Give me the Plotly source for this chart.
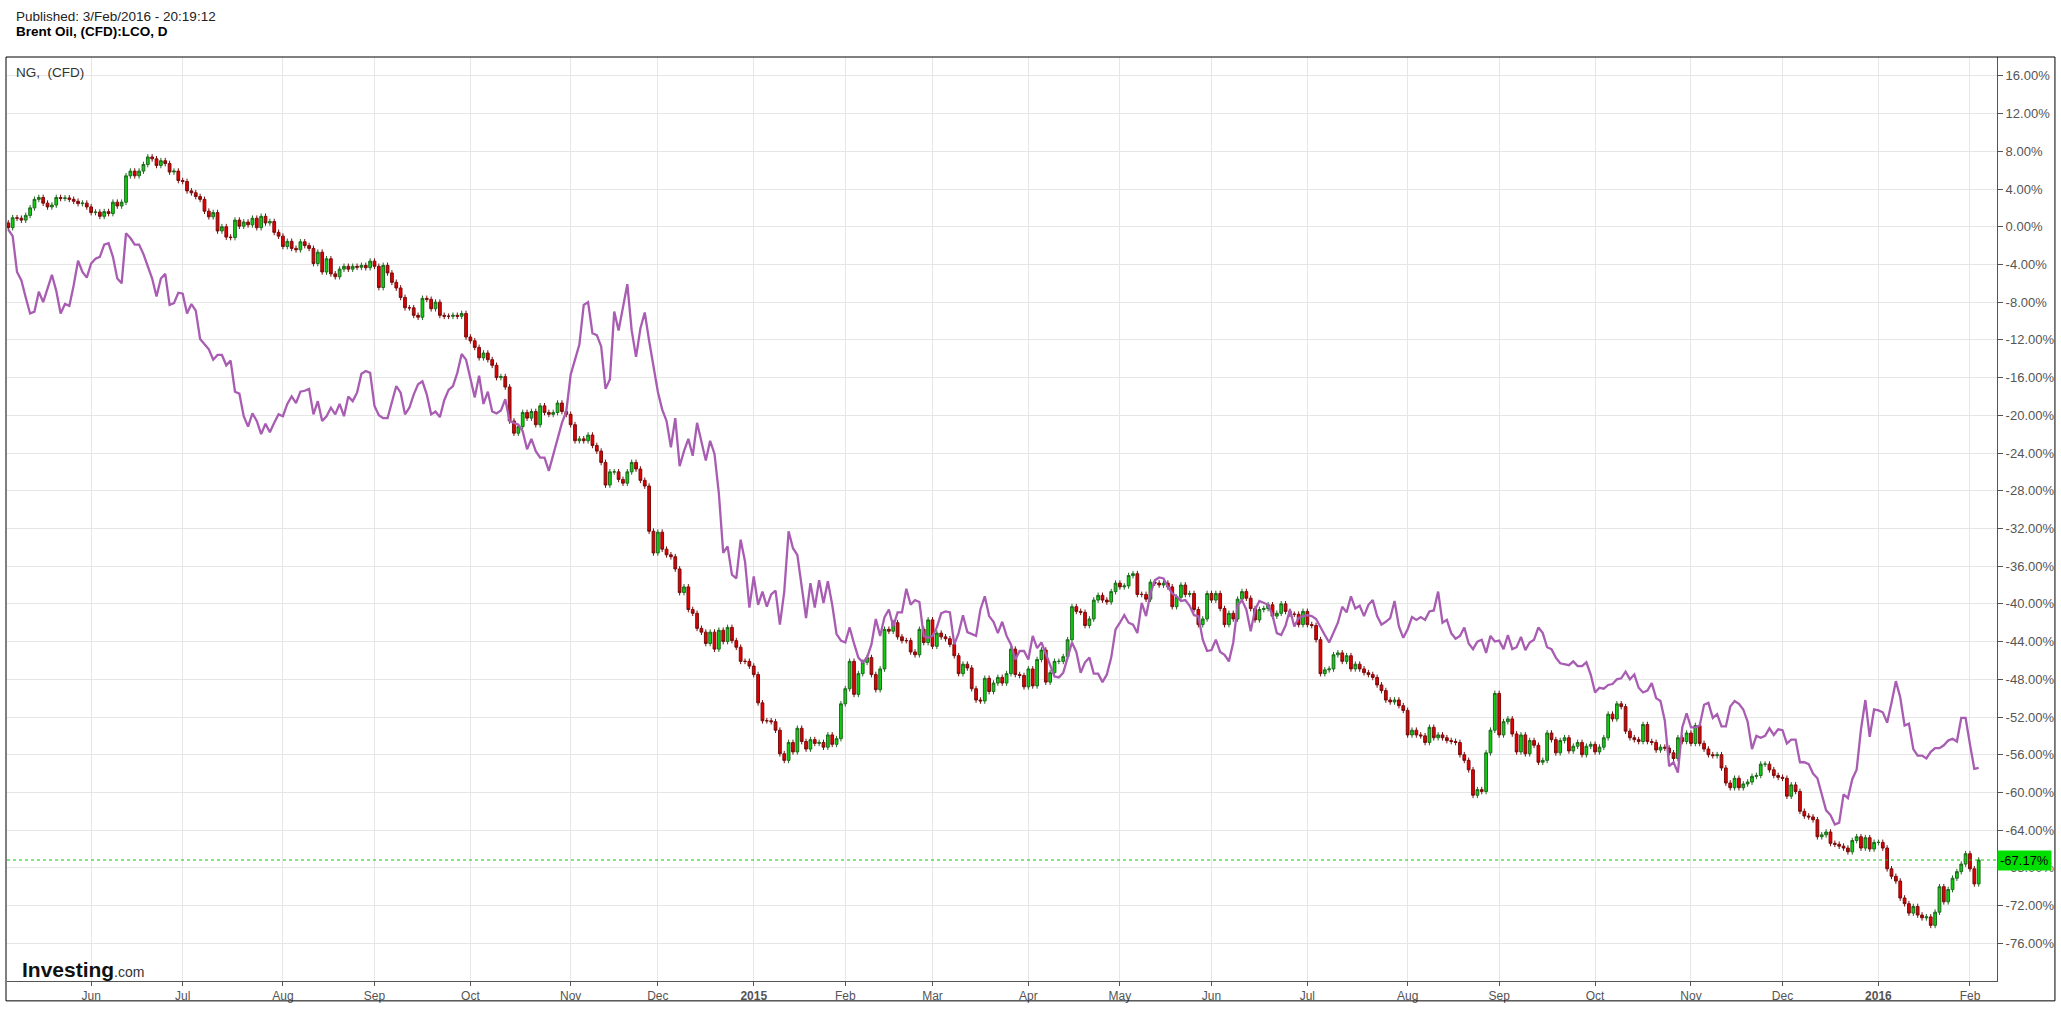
import pandas as pd
import plotly.graph_objects as go

# Brent Oil (CFD) daily closes, % change from the first bar, one list per month
brent_2014_05 = [-0.1, 0.95, 0.9, 0.7, 1.2, 2.0, 2.9, 3.1, 2.5, 2.1, 2.3, 3.1, 3.0, 3.05, 2.9, 2.7, 2.45, 2.5, 2.1]
brent_2014_06 = [1.5, 1.55, 1.1, 1.6, 1.4, 2.6, 2.2, 2.6, 5.4, 5.9, 5.4, 5.9, 6.6, 7.4, 7.2, 6.5, 7.0, 6.7, 5.8, 5.9, 4.9]
brent_2014_07 = [4.8, 3.8, 3.6, 3.2, 2.9, 1.65, 1.05, 1.5, -0.45, 0.0, -1.1, -1.15, 0.7, 0.05, 0.5, 0.2, 0.9, -0.1,
                 1.1, 0.4, 0.55, -0.6, -1.0]
brent_2014_08 = [-2.1, -1.55, -2.3, -2.45, -1.6, -2.0, -2.3, -3.9, -2.7, -4.8, -3.4, -5.0, -5.3, -4.5, -4.2, -4.5,
                 -4.2, -4.3, -4.1, -4.35, -3.65]
brent_2014_09 = [-4.2, -6.45, -4.1, -4.9, -5.9, -6.5, -7.5, -8.6, -8.6, -9.4, -9.6, -7.6, -7.7, -8.7, -8.0, -9.4,
                 -9.5, -9.5, -9.4, -9.5, -9.2, -11.7]
brent_2014_10 = [-12.1, -12.8, -13.9, -13.4, -14.1, -14.7, -16.0, -15.9, -17.0, -20.6, -21.9, -21.2, -19.7, -20.3,
                 -19.6, -21.0, -19.0, -19.7, -19.9, -19.7, -18.7, -19.6, -19.9]
brent_2014_11 = [-21.0, -22.7, -22.5, -22.7, -22.1, -23.2, -23.8, -25.0, -27.4, -26.0, -26.0, -26.8, -27.2, -26.0,
                 -25.0, -25.7, -26.9, -27.5, -32.3, -34.6]
brent_2014_12 = [-32.4, -34.2, -34.8, -35.0, -36.3, -38.8, -38.2, -40.6, -41.0, -42.6, -43.0, -44.2, -43.0, -44.8,
                 -42.8, -44.0, -42.5, -43.9, -44.6, -46.1, -46.1, -46.6]
brent_2015_01 = [-47.5, -50.5, -52.4, -52.4, -52.5, -53.4, -55.9, -56.6, -54.7, -55.7, -53.2, -54.6, -55.4, -54.4,
                 -54.8, -54.7, -55.2, -53.9, -54.9, -54.3, -50.6]
brent_2015_02 = [-49.0, -46.1, -49.6, -47.4, -46.2, -45.7, -47.5, -49.1, -46.9, -42.7, -42.9, -42.0, -43.5, -43.9,
                 -43.9, -45.1, -45.4, -42.7, -44.1, -41.7]
brent_2015_03 = [-44.5, -43.1, -43.5, -43.7, -44.3, -45.5, -47.4, -46.4, -46.8, -49.0, -50.2, -50.3, -47.9, -49.3,
                 -48.4, -47.8, -48.4, -47.4, -44.8, -47.5, -47.6, -48.8]
brent_2015_04 = [-46.9, -48.7, -45.9, -44.9, -48.3, -47.3, -46.1, -46.1, -45.6, -43.8, -40.3, -40.8, -40.9, -42.3,
                 -41.6, -39.6, -39.1, -39.6, -39.8, -38.7, -37.8]
brent_2015_05 = [-38.2, -38.1, -37.0, -36.8, -39.0, -39.0, -39.5, -37.7, -37.8, -38.0, -37.8, -38.2, -40.3, -39.3,
                 -38.0, -39.0, -38.9, -40.6, -42.2, -41.6, -38.9]
brent_2015_06 = [-39.6, -38.9, -40.5, -42.2, -41.0, -41.6, -39.5, -38.7, -39.4, -40.5, -41.7, -40.6, -40.5, -40.1,
                 -41.3, -41.0, -40.0, -40.8, -41.1, -41.1, -42.2, -40.8]
brent_2015_07 = [-42.2, -42.3, -43.8, -47.4, -47.0, -46.9, -45.4, -45.2, -46.1, -45.5, -46.9, -46.4, -46.9, -47.3,
                 -47.5, -47.8, -48.6, -49.2, -50.2, -50.4, -50.2, -50.8, -51.3]
brent_2015_08 = [-53.9, -53.4, -53.9, -54.0, -54.7, -53.1, -54.2, -53.9, -54.2, -54.5, -54.6, -54.7, -56.0, -56.6,
                 -57.6, -60.3, -59.7, -59.9, -55.8, -53.4, -49.5]
brent_2015_09 = [-53.9, -52.5, -52.2, -53.8, -55.7, -53.9, -55.9, -54.5, -55.0, -56.8, -56.6, -53.7, -54.4, -55.8,
                 -54.5, -54.2, -55.6, -55.1, -54.7, -56.0, -55.1, -54.9]
brent_2015_10 = [-55.7, -55.2, -54.2, -51.7, -52.2, -50.6, -50.9, -53.5, -54.2, -54.4, -54.6, -52.8, -54.6, -54.7,
                 -55.5, -55.2, -55.3, -55.8, -56.4, -54.2, -54.6, -53.7]
brent_2015_11 = [-54.8, -52.9, -54.8, -55.4, -56.0, -56.1, -56.0, -57.4, -59.0, -59.5, -58.5, -59.5, -59.1, -58.9,
                 -58.3, -58.2, -57.0, -57.0, -57.6, -58.2, -58.4]
brent_2015_12 = [-58.5, -60.4, -59.2, -59.9, -62.0, -62.5, -62.6, -62.9, -64.7, -64.5, -64.2, -65.4, -65.5, -65.7,
                 -65.9, -66.3, -65.1, -64.7, -65.9, -64.8, -66.0, -65.3]
brent_2016_01 = [-65.3, -65.9, -68.1, -68.9, -69.4, -71.2, -71.8, -72.8, -72.1, -73.0, -73.3, -73.2, -74.1, -72.7,
                 -70.0, -71.6, -70.3, -69.1, -68.4, -67.6, -66.5]
brent_2016_02 = [-68.1, -69.7, -67.17]
brent_first_open = 0.4

# Natural gas (CFD) daily closes, % change from the first bar
ng_2014_05 = [-0.3, -1.0, -4.8, -5.7, -7.5, -9.2, -9.0, -6.9, -8.0, -6.6, -5.1, -6.8, -9.2, -8.2, -8.4, -6.2, -3.6,
              -4.8, -5.4]
ng_2014_06 = [-3.9, -3.4, -3.2, -1.9, -1.75, -3.2, -5.5, -6.0, -0.7, -1.2, -1.9, -1.9, -2.9, -4.1, -5.5, -7.4, -5.5,
              -5.0, -8.3, -8.1, -7.0]
ng_2014_07 = [-7.1, -9.2, -8.2, -8.9, -11.9, -12.5, -13.0, -14.1, -13.6, -13.6, -14.7, -14.2, -17.5, -17.7, -20.1,
              -21.2, -19.8, -20.6, -22.0, -20.9, -21.8, -20.8, -19.9]
ng_2014_08 = [-20.1, -18.8, -18.0, -18.7, -17.5, -17.4, -17.2, -19.9, -18.5, -20.6, -20.1, -19.2, -19.9, -18.8, -20.1,
              -18.0, -18.5, -17.6, -15.6, -15.3, -15.5]
ng_2014_09 = [-19.0, -20.0, -20.3, -20.3, -18.7, -16.9, -17.6, -19.9, -19.2, -17.8, -16.7, -16.4, -17.8, -19.9, -19.6,
              -20.2, -18.4, -17.3, -16.9, -15.5, -13.5, -14.1]
ng_2014_10 = [-16.1, -18.1, -15.8, -18.8, -17.5, -19.6, -19.8, -19.5, -18.3, -20.6, -20.8, -21.0, -21.7, -23.6, -22.5,
              -23.8, -24.5, -24.5, -25.9, -24.1, -22.4, -20.8, -19.6]
ng_2014_11 = [-15.7, -14.1, -12.5, -8.3, -8.0, -11.3, -11.5, -12.7, -17.2, -16.2, -9.0, -11.0, -8.4, -6.1, -11.0,
              -13.8, -10.8, -9.1, -12.1, -15.0]
ng_2014_12 = [-17.5, -19.4, -20.6, -23.4, -20.3, -25.4, -23.8, -22.5, -24.3, -20.8, -22.9, -24.8, -22.7, -24.1, -28.3,
              -34.6, -33.9, -36.9, -37.3, -33.2, -35.5, -40.4]
ng_2015_01 = [-37.1, -40.1, -38.7, -40.3, -39.0, -38.6, -42.2, -38.7, -32.3, -34.1, -34.8, -38.2, -41.5, -37.8, -40.4,
              -37.5, -39.9, -37.6, -40.1, -43.2, -43.9]
ng_2015_02 = [-44.1, -42.5, -44.2, -45.7, -46.2, -45.7, -44.3, -41.6, -43.4, -41.4, -40.6, -42.4, -40.9, -40.9, -38.4,
              -40.1, -39.6, -39.8, -43.4, -43.6]
ng_2015_03 = [-43.4, -42.5, -41.0, -40.8, -40.9, -44.3, -43.1, -41.2, -43.0, -43.2, -43.4, -40.6, -39.2, -41.3, -41.9,
              -43.1, -41.9, -43.4, -44.3, -45.9, -45.0, -45.0]
ng_2015_04 = [-45.9, -43.4, -44.7, -44.1, -45.3, -46.6, -47.7, -47.8, -47.3, -45.7, -44.1, -45.1, -47.3, -46.2, -45.7,
              -47.4, -47.4, -48.3, -47.5, -45.7, -42.7]
ng_2015_05 = [-42.0, -41.2, -42.0, -42.2, -43.1, -39.9, -41.3, -38.9, -37.5, -37.2, -37.3, -38.2, -38.9, -39.2, -39.7,
              -39.6, -40.2, -41.2, -41.3, -43.8, -45.0]
ng_2015_06 = [-44.9, -43.8, -45.1, -45.4, -46.1, -44.1, -40.2, -39.6, -40.6, -42.9, -40.6, -39.7, -39.9, -40.1, -41.2,
              -43.1, -43.3, -42.3, -40.6, -42.4, -41.5, -41.3]
ng_2015_07 = [-41.2, -41.3, -41.6, -42.5, -43.3, -44.1, -43.1, -42.0, -40.3, -40.9, -39.2, -40.5, -40.2, -41.3, -40.1,
              -39.6, -41.3, -42.2, -41.9, -41.5, -39.7, -42.4, -43.6]
ng_2015_08 = [-42.7, -41.4, -41.7, -41.4, -41.7, -40.8, -40.7, -38.7, -42.0, -41.7, -43.1, -43.7, -43.4, -42.5, -44.2,
              -44.8, -44.0, -43.8, -45.2, -43.4, -44.0]
ng_2015_09 = [-43.9, -44.8, -43.3, -44.8, -44.6, -43.5, -44.9, -44.1, -43.8, -42.5, -43.1, -44.6, -44.8, -45.7, -46.3,
              -46.4, -46.5, -46.1, -46.6, -46.6, -46.2, -47.5]
ng_2015_10 = [-49.4, -48.9, -49.0, -48.6, -48.5, -48.0, -47.9, -47.2, -48.0, -47.5, -48.9, -49.4, -49.2, -48.4, -50.0,
              -50.3, -52.4, -57.2, -56.8, -57.9, -53.1, -51.6]
ng_2015_11 = [-53.1, -53.1, -52.9, -50.7, -50.5, -52.1, -51.7, -53.0, -53.0, -50.9, -50.3, -50.6, -51.2, -52.5, -55.4,
              -54.0, -54.2, -54.0, -53.2, -53.9, -53.3]
ng_2015_12 = [-53.4, -54.8, -54.4, -54.4, -56.8, -56.8, -57.0, -58.0, -58.5, -60.3, -61.9, -62.4, -63.4, -63.2, -60.2,
              -60.6, -58.6, -57.6, -53.3, -50.2, -54.1, -51.2]
ng_2016_01 = [-51.3, -51.5, -52.6, -50.5, -48.2, -49.9, -52.9, -52.7, -55.4, -56.1, -56.1, -56.4, -55.7, -55.3, -55.3,
              -55.0, -54.5, -54.3, -54.6, -52.1, -52.1]
ng_2016_02 = [-54.9, -57.5, -57.4]

month_labels = ["Jun", "Jul", "Aug", "Sep", "Oct", "Nov", "Dec", "<b>2015</b>", "Feb", "Mar", "Apr", "May", "Jun",
                "Jul", "Aug", "Sep", "Oct", "Nov", "Dec", "<b>2016</b>", "Feb"]
y_ticks = list(range(16, -77, -4))
closed_days = ["2014-12-25", "2015-01-01", "2015-04-03", "2015-12-25"]

brent_close = (brent_2014_05 + brent_2014_06 + brent_2014_07 + brent_2014_08 + brent_2014_09 + brent_2014_10
               + brent_2014_11 + brent_2014_12 + brent_2015_01 + brent_2015_02 + brent_2015_03 + brent_2015_04
               + brent_2015_05 + brent_2015_06 + brent_2015_07 + brent_2015_08 + brent_2015_09 + brent_2015_10
               + brent_2015_11 + brent_2015_12 + brent_2016_01 + brent_2016_02)
ng_close = (ng_2014_05 + ng_2014_06 + ng_2014_07 + ng_2014_08 + ng_2014_09 + ng_2014_10 + ng_2014_11 + ng_2014_12
            + ng_2015_01 + ng_2015_02 + ng_2015_03 + ng_2015_04 + ng_2015_05 + ng_2015_06 + ng_2015_07 + ng_2015_08
            + ng_2015_09 + ng_2015_10 + ng_2015_11 + ng_2015_12 + ng_2016_01 + ng_2016_02)

# trading days on the chart (weekdays without the closed days)
days = pd.bdate_range("2014-05-06", "2016-02-03")
days = days[~days.isin(pd.to_datetime(closed_days))]
x = [d.strftime("%Y-%m-%d") for d in days]
assert len(x) == len(brent_close) == len(ng_close), (len(x), len(brent_close), len(ng_close))

# open = previous close, small wicks around the body
brent_open = [brent_first_open] + brent_close[:-1]
brent_high = [max(o, c) + 0.3 for o, c in zip(brent_open, brent_close)]
brent_low = [min(o, c) - 0.3 for o, c in zip(brent_open, brent_close)]

# first trading day of each month -> x tick
first_days = pd.Series(x, index=days).groupby([days.year, days.month]).first().tolist()[1:]

FONT = "Liberation Sans, Arial, sans-serif"
W, H = 2061, 1010
L, R, T, B = 7, 62, 57, 23


def px_x(px):
    return (px - L) / (W - L - R)


def px_y(py):
    return (H - B - py) / (H - T - B)


fig = go.Figure()
fig.add_trace(go.Candlestick(
    x=x, open=brent_open, high=brent_high, low=brent_low, close=brent_close,
    increasing=dict(fillcolor="#12cc12", line=dict(color="#1d6a1d", width=1)),
    decreasing=dict(fillcolor="#e00000", line=dict(color="#7a0d0d", width=1)),
    whiskerwidth=0, name="Brent Oil"
))
fig.add_trace(go.Scatter(
    x=x, y=ng_close, mode="lines", line=dict(color="#a85cb2", width=2.3), name="NG"
))

last = brent_close[-1]
fig.add_shape(type="line", xref="paper", x0=0, x1=1, yref="y", y0=last, y1=last,
              line=dict(color="#00d000", width=1, dash="dot"))
# outer frame
fig.add_shape(type="rect", xref="paper", yref="paper", x0=px_x(6), x1=px_x(2057), y0=px_y(1007), y1=px_y(57),
              line=dict(color="#000000", width=1))

fig.add_annotation(x=1, xref="paper", xanchor="left", y=last, yref="y", yanchor="middle",
                   text=f"{last:.2f}%", showarrow=False, bgcolor="#00e000", borderpad=2,
                   font=dict(family=FONT, size=13, color="#000000"))
fig.add_annotation(x=px_x(14), y=px_y(16), xref="paper", yref="paper", xanchor="left", yanchor="middle",
                   text="Published: 3/Feb/2016 - 20:19:12", showarrow=False,
                   font=dict(family=FONT, size=13.5, color="#222222"))
fig.add_annotation(x=px_x(14), y=px_y(31), xref="paper", yref="paper", xanchor="left", yanchor="middle",
                   text="<b>Brent Oil, (CFD):LCO, D</b>", showarrow=False,
                   font=dict(family=FONT, size=13.5, color="#000000"))
fig.add_annotation(x=px_x(14), y=px_y(73), xref="paper", yref="paper", xanchor="left", yanchor="middle",
                   text="NG,  (CFD)", showarrow=False, font=dict(family=FONT, size=13.5, color="#333333"))
fig.add_annotation(x=px_x(20), y=px_y(975), xref="paper", yref="paper", xanchor="left", yanchor="middle",
                   text="<b>Investing</b>", showarrow=False, font=dict(family=FONT, size=21, color="#111111"))
fig.add_annotation(x=px_x(112), y=px_y(978), xref="paper", yref="paper", xanchor="left", yanchor="middle",
                   text=".com", showarrow=False, font=dict(family=FONT, size=14, color="#333333"))

fig.update_layout(
    width=W, height=H,
    margin=dict(l=L, r=R, t=T, b=B),
    plot_bgcolor="white", paper_bgcolor="white",
    showlegend=False,
    boxgap=0.1,
    font=dict(family=FONT, size=12, color="#555555"),
    xaxis=dict(
        type="category", range=[-0.3, len(x) + 3.2],
        tickmode="array", tickvals=first_days, ticktext=month_labels,
        showgrid=True, gridcolor="#e6e6e6", gridwidth=1,
        ticks="outside", ticklen=4, tickcolor="#555555",
        showline=True, linecolor="#555555", linewidth=1,
        rangeslider=dict(visible=False), tickangle=0,
    ),
    yaxis=dict(
        side="right", range=[-80, 18],
        tickmode="array", tickvals=y_ticks, ticktext=[f"{v:.2f}%" for v in y_ticks],
        tickfont=dict(size=13),
        showgrid=True, gridcolor="#e6e6e6", gridwidth=1, zeroline=False,
        ticks="outside", ticklen=5, tickcolor="#555555",
        showline=True, linecolor="#555555", linewidth=1,
    ),
)

fig.write_html("out.html", config={"displayModeBar": False},
               post_script="document.body.style.margin='0';")
